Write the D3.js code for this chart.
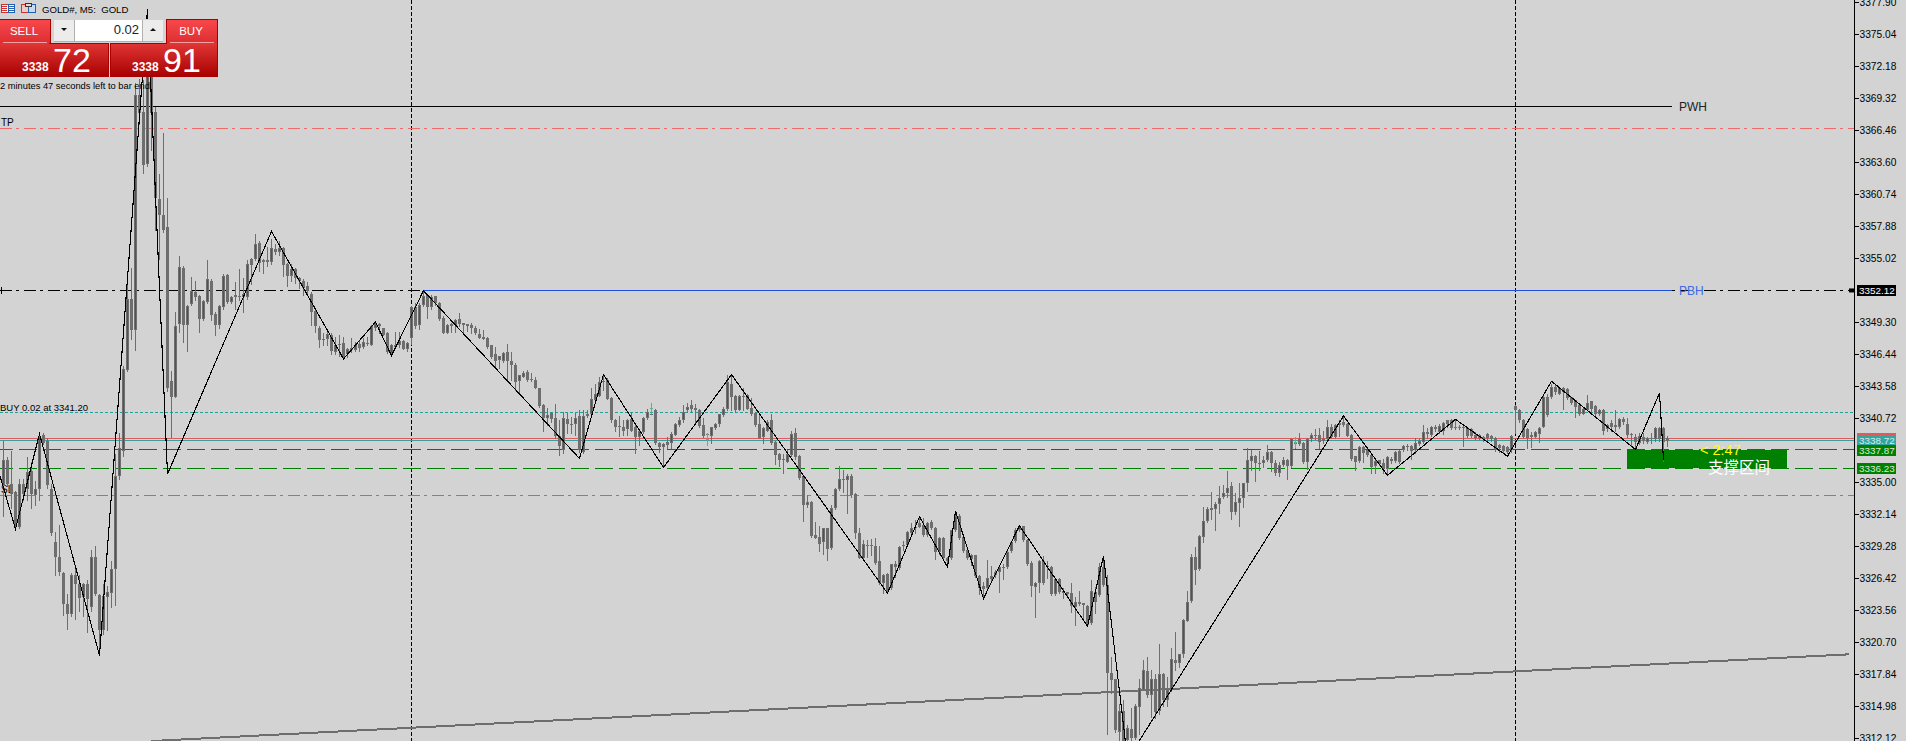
<!DOCTYPE html>
<html><head><meta charset="utf-8">
<script src="https://cdn.jsdelivr.net/npm/d3@7/dist/d3.min.js"></script>
<style>html,body{margin:0;padding:0;background:#d3d3d3;overflow:hidden}svg{display:block}</style>
</head><body><svg id="c" width="1906" height="741"></svg>
<script>
// Candles as [open, high, low, close]
const barsA=[[3334.6,3338.7,3332,3337],[3337,3337.2,3334.6,3334.8],[3334.8,3337.8,3332.7,3333.9],[3334.1,3334.2,3330.8,3331.2],[3331,3335.3,3330.9,3334.8],[3334.8,3335.3,3333.4,3333.9],[3334.4,3337.2,3333.4,3335.9],[3336,3336.8,3332.7,3333.9],[3333.8,3335.1,3332.9,3334.4],[3334.4,3339.4,3333.4,3339],
[3339.2,3339.4,3338.4,3338.5],[3338.7,3338.9,3334.5,3334.7],[3334.4,3334.8,3330.3,3330.4],[3329.6,3330.5,3326.7,3328.3],[3328.3,3331.2,3326.7,3327],[3326.9,3327,3323.1,3324.1],[3324.1,3325,3321.9,3323.2],[3323.2,3326.9,3323,3326.7],[3326.7,3327.4,3322.8,3325.9],[3325.9,3326.7,3323.5,3324.6],
[3324.7,3326,3323,3325.9],[3325.9,3326.2,3321.6,3324.5],[3323.8,3328.9,3323.5,3328.3],[3328.3,3329.3,3324.9,3325],[3324.9,3325,3320.1,3321.8],[3321.8,3325.9,3321.4,3324.8],[3324.7,3325.7,3321.8,3325.2],[3325.1,3327.9,3323.8,3327.2],[3327.2,3337.5,3324,3335.5],[3335.5,3339.4,3335.3,3338],
[3337.8,3345.4,3337.3,3345.1],[3345,3353.8,3344.9,3351.4],[3351.4,3354.1,3347.8,3348.6],[3348.6,3370.7,3346.8,3369.6],[3369.6,3371,3367,3368],[3368.1,3370.9,3362.6,3363.3],[3363.4,3377.3,3363.2,3372],[3372.7,3373,3364.7,3368],[3368.1,3368.5,3357.5,3360.4],[3360.3,3362.5,3354.9,3358.9],
[3358.9,3366.2,3357.3,3357.5],[3357.8,3360.4,3343.1,3343.4],[3344,3344.9,3339,3342.6],[3342.6,3350.2,3342.6,3348.9],[3349.1,3355.2,3348.4,3354.2],[3354.1,3354.3,3347.5,3349],[3349,3350.8,3346.7,3350.7],[3350.9,3353.3,3350.8,3352.1],[3352,3353,3351.3,3351.5],[3351.6,3351.7,3348.4,3349.6],
[3349.6,3351.3,3349.5,3351.2],[3351.1,3354.8,3351,3353.1],[3353,3353.1,3349.5,3349.9],[3350,3350.2,3348.1,3349],[3349,3350.8,3348.8,3350.7],[3350.6,3353.6,3350.5,3353.4],[3353.5,3353.6,3351,3351.1],[3351.1,3351.6,3351,3351.5],[3351.7,3352.9,3350.5,3351.5],[3351.6,3354,3351.3,3351.5],
[3351.8,3353.2,3350.2,3351.5],[3351.5,3354.8,3351.4,3354.5],[3354.9,3355,3352.7,3354.4],[3354.9,3357.2,3354.8,3356.3],[3356.4,3356.5,3353.9,3354.6],[3354.8,3354.9,3353.7,3354.7],[3354.8,3356,3354.3,3354.7],[3354.7,3356.7,3354.5,3355.9],[3355.8,3356.3,3355.4,3355.6],[3355.6,3356.5,3355.3,3355.9]];
const barsB=[[3355.9,3356,3353.4,3354.4],[3354.5,3354.6,3352.5,3353.4],[3353.4,3354.5,3353,3354],[3354,3354.1,3352.8,3353.2],[3353.2,3353.3,3352.3,3353],[3353,3353.1,3351.7,3352.3],[3352.5,3352.9,3351.7,3352.1],[3351.8,3352,3349,3350.2],[3350.3,3350.4,3348.4,3348.9],[3348.8,3348.9,3347.1,3347.7],
[3347.8,3348.3,3347.2,3347.7],[3347.8,3348.4,3347.2,3348.2],[3348.1,3348.3,3346.4,3346.7],[3346.6,3348,3346.4,3347.2],[3347.3,3348.1,3346.3,3347.2],[3347.4,3348,3346,3346.2],[3346.4,3347,3346.2,3346.9],[3347,3347.9,3346.6,3346.8],[3346.8,3347.5,3346.7,3347.2],[3347.3,3347.6,3346.7,3347],
[3347.1,3347.9,3347,3347.5],[3347.4,3348,3347.2,3347.3],[3347.2,3349,3347.2,3348.9],[3348.8,3349.3,3348.6,3349.1],[3349.1,3349.2,3348.3,3348.9],[3348.8,3348.8,3348.1,3348.1],[3348.3,3348.4,3346.5,3346.6],[3346.5,3347.3,3346.4,3347.2],[3347.2,3348.4,3347,3347.1],[3347.2,3348.4,3347.1,3347.6],
[3347.6,3347.7,3346.9,3346.9],[3346.9,3347.5,3346.7,3347.4],[3347.9,3350.7,3347.3,3350.6],[3350.6,3351,3348.8,3348.9],[3349,3351,3348.7,3350.8],[3350.8,3352.1,3350.7,3351.6],[3351.7,3351.7,3349.7,3350.6],[3350.6,3351.7,3350.5,3351.5],[3351.6,3351.6,3350.8,3351],[3351,3351.1,3349.5,3349.6],
[3349.7,3349.8,3348.3,3348.3],[3348.3,3349.1,3348.3,3349],[3349.1,3349.2,3348.4,3348.9],[3349,3349.6,3348.4,3349.5],[3349.6,3350.1,3348.9,3349.1],[3349.2,3349.2,3348.4,3349],[3349.1,3349.1,3348.5,3348.9],[3349,3349.2,3348.3,3348.8],[3348.8,3348.9,3348.2,3348.3],[3348.2,3348.7,3347.9,3347.9],
[3348,3348.6,3347.8,3347.8],[3347.9,3348,3347,3347.1],[3347.2,3347.2,3346.1,3346.2],[3346.4,3347.1,3345.3,3345.8],[3345.9,3346.3,3345.2,3346.3],[3345.8,3346.6,3345.7,3346.5],[3346.6,3347.3,3344.1,3345.8],[3345.8,3346.6,3344.1,3345.5],[3345.5,3345.6,3343.2,3343.9],[3344,3344.6,3343,3344.6],
[3344.4,3344.9,3344.4,3344.7],[3344.8,3345,3344,3344.1],[3344.2,3344.7,3344,3344.1],[3344.1,3344.4,3343.4,3343.4],[3343.4,3343.4,3341.7,3341.8],[3341.9,3342,3339.6,3340.7],[3340.7,3341.6,3340.1,3341],[3341.2,3341.3,3340.4,3340.6],[3340.7,3342,3338.9,3339.1],[3339.1,3340.5,3337.4,3338.2]];
const barsC=[[3337.9,3341.3,3337.6,3340.7],[3340.6,3341.2,3339.4,3340.2],[3340.2,3340.8,3339.4,3340.1],[3340.2,3341.2,3339.2,3340.7],[3340.9,3341.4,3337.7,3337.9],[3337.7,3341.4,3337.6,3340.9],[3341.1,3341.4,3340.8,3340.9],[3341.1,3343.4,3341,3342.4],[3342.3,3343.8,3342.2,3342.9],[3342.7,3344.4,3342.7,3343.9],
[3344,3344.6,3343.2,3343.9],[3344.1,3344.3,3342.4,3342.4],[3342.5,3342.6,3340.4,3340.5],[3340.5,3340.6,3339.6,3339.9],[3340,3340.9,3339.1,3339.9],[3339.9,3340.5,3339.2,3339.6],[3339.7,3340.6,3339.2,3340.5],[3340.6,3341.3,3339.6,3339.6],[3339.9,3340.2,3337.6,3339],[3339,3339.7,3338.3,3339.6],
[3339.5,3340.8,3339.4,3340.7],[3340.7,3341.5,3340.6,3341.3],[3341.1,3342.1,3341.1,3341.1],[3341.4,3341.5,3338.4,3338.5],[3338.5,3338.6,3337.7,3338.1],[3338.1,3338.5,3336.4,3338.4],[3338.6,3339,3338,3338.3],[3338.5,3339.5,3338,3339.3],[3339.2,3340.3,3339.2,3340.2],[3340.1,3340.8,3340,3340.5],
[3340.5,3341.9,3340.4,3341.3],[3341.4,3342.1,3341.3,3341.7],[3341.9,3342.3,3341.3,3341.5],[3341.6,3342,3340.4,3341.4],[3341.4,3341.5,3339.9,3340],[3340.1,3340.7,3339,3339.1],[3339.3,3339.4,3339.2,3339.3],[3339.1,3339.9,3338.5,3339.9],[3339.8,3340.3,3339.7,3340.2],[3340.2,3341.1,3340,3341.1],
[3341,3341.7,3340.9,3341.5],[3341.5,3344.6,3341.4,3343.9],[3343.8,3344.6,3341.4,3342.6],[3342.7,3342.8,3341.3,3341.4],[3341.4,3342.8,3341.4,3342.7],[3342.7,3343.4,3341.4,3342.6],[3342.8,3342.9,3341.5,3341.5],[3341.6,3342.5,3341,3341.1],[3341.2,3341.3,3340,3340.1],[3340.2,3341,3338.9,3338.9],
[3339,3339.9,3338.5,3339.8],[3339.6,3340.5,3339.6,3340.4],[3340.5,3341.1,3338.4,3338.5],[3338.6,3338.7,3336.6,3337.4],[3337.5,3337.6,3336.4,3337],[3337.1,3337.5,3335.8,3337],[3336.8,3337.9,3336.8,3337.5],[3337.4,3339.6,3337.3,3339.3],[3339.4,3339.8,3337.1,3337.2],[3337.3,3337.4,3335.3,3335.4],
[3335.5,3335.5,3331.5,3332.9],[3332.9,3333.8,3332.8,3333.2],[3333.2,3333.3,3330.1,3330.2],[3330.3,3331.4,3330,3330],[3330.1,3331.1,3328.8,3329.5],[3329.6,3330.9,3328.6,3330.9],[3330.9,3330.9,3328,3329],[3329.1,3332.9,3329,3332.7],[3332.7,3334.5,3332.6,3334.4],[3334.4,3336.4,3334.3,3335.3]];
const barsD=[[3335.3,3336.1,3334.1,3335.2],[3335.2,3335.7,3332.2,3335.5],[3335.5,3335.7,3333.7,3333.8],[3333.9,3334,3330,3330.4],[3330.4,3330.9,3328.2,3328.2],[3328.2,3329.8,3328.2,3329.5],[3329.4,3329.8,3328.3,3329.3],[3329.4,3329.9,3328.5,3329.3],[3329.3,3330,3327.7,3327.8],[3327.9,3329.3,3325.9,3326],
[3326,3326.8,3325.1,3326.7],[3326.8,3326.9,3325.2,3325.3],[3325.5,3327.7,3325.4,3327.7],[3327.7,3327.9,3326.5,3327.4],[3327.3,3329.3,3327.2,3329.2],[3329.4,3329.7,3328.9,3329.3],[3329.4,3330.6,3329.3,3330.5],[3330.4,3331.3,3330.4,3330.9],[3331,3331.6,3330.4,3330.9],[3331.3,3331.8,3331,3331],
[3331.2,3331.8,3330.2,3330.3],[3330.3,3331.4,3330.2,3331.3],[3331.4,3331.6,3330.8,3330.9],[3330.9,3331,3328.1,3328.7],[3328.7,3330.1,3328.6,3330],[3330,3330.1,3328.1,3328.2],[3327.9,3328.3,3327.7,3328.2],[3328.2,3330.7,3328.1,3330.7],[3330.7,3332.4,3330.6,3332],[3332,3332.1,3329.9,3330],
[3330.1,3330.1,3328.7,3328.8],[3328.9,3328.9,3328.1,3328.2],[3328.1,3328.6,3327.6,3328.5],[3328.5,3328.5,3326.5,3326.6],[3326.6,3326.7,3325,3325.5],[3325.7,3326.1,3324.6,3325.4],[3325.5,3328,3325.4,3326.4],[3326.3,3327.5,3326.2,3326.6],[3326.7,3327.1,3326.5,3327],[3327,3327.4,3325.2,3327.4],
[3327.4,3327.7,3326.3,3327.3],[3327.4,3328.8,3327.3,3328.7],[3328.8,3329.7,3328.7,3329.6],[3329.7,3330.9,3329.6,3330.7],[3330.7,3331.2,3330.6,3331.1],[3331.1,3331.1,3329.7,3329.8],[3329.8,3329.9,3327.6,3327.7],[3327.8,3327.9,3324.8,3325.7],[3325.6,3326.1,3322.9,3326],[3326,3328,3325.2,3327.9],
[3327.9,3328.4,3325.9,3326],[3327.5,3327.9,3326.4,3327.4],[3327.4,3327.5,3324.9,3325],[3325,3326.4,3324.9,3326.3],[3326.3,3326.4,3325.1,3325.2],[3325.3,3325.5,3324.6,3325.1],[3325.2,3325.2,3324.7,3325],[3325.1,3326,3323.4,3323.9],[3323.8,3324.7,3322.2,3324.3],[3324.3,3325.3,3324,3324.1],
[3324.2,3324.2,3322.7,3324],[3323.9,3324,3322.1,3322.2],[3322.4,3326.2,3322.3,3325.3],[3325.2,3325.6,3323.3,3324.3],[3324.9,3327.8,3324.8,3327.4],[3327.4,3328.4,3325.7,3325.8],[3325.8,3326.7,3312.5,3317.9],[3317.9,3319.4,3316.1,3317.3],[3317.4,3317.4,3312.7,3312.8],[3312.7,3315.2,3311.8,3314.5]];
const barsE=[[3314.5,3315.5,3311.8,3311.8],[3311.9,3313.3,3311.8,3313],[3312.9,3314.8,3311.8,3312.1],[3312.1,3315.2,3312,3315],[3314.9,3317.4,3312.5,3316.6],[3316.4,3319.1,3316.4,3318.2],[3318.1,3319.4,3315.8,3316],[3316,3318.2,3314,3317.4],[3317.4,3317.8,3313.9,3314.4],[3314.5,3320.5,3314.3,3317.8],
[3317.8,3317.9,3315,3315.5],[3315.5,3317.6,3315,3316.4],[3316.4,3320.2,3316.3,3319.2],[3319.1,3321.6,3318.2,3318.8],[3318.8,3319.6,3318.5,3319.6],[3319.6,3322.8,3319.4,3322.7],[3322.6,3325.3,3322.6,3324.3],[3324.4,3328.6,3324.3,3328.3],[3328.3,3329.2,3325.9,3327.1],[3327.2,3330.3,3327.1,3330.2],
[3330.1,3332.8,3329.6,3331.5],[3331.5,3332.8,3331.4,3332.6],[3332.5,3334.1,3331.7,3332.7],[3332.6,3333.2,3330.7,3333],[3333,3334.6,3332.2,3333.6],[3333.7,3334.7,3333.6,3334],[3334,3336,3333.7,3334.5],[3334.6,3335,3331.7,3332.3],[3332.3,3334,3332.1,3333.2],[3333.1,3334.9,3331.1,3333.6],
[3333.6,3334.9,3332.8,3334.9],[3334.9,3338,3334.2,3337],[3336.9,3337.9,3336.1,3337.3],[3337.3,3337.4,3335.1,3336.7],[3336.7,3337.8,3336.1,3336.6],[3336.7,3337.3,3336.3,3337],[3337,3338.3,3336.9,3337.7],[3337.7,3337.8,3336,3336.7],[3336.7,3337,3335.6,3335.8],[3335.8,3336.8,3335.5,3336.5],
[3336.5,3337.2,3336.4,3337],[3337,3337.1,3335.3,3336.4],[3336.4,3338.9,3336.3,3338.8],[3338.5,3339,3338,3338.5],[3338.8,3339.4,3338.3,3338.4],[3338.5,3338.6,3336.7,3336.8],[3336.8,3338.9,3336.2,3338.8],[3338.8,3339.4,3338.7,3339.2],[3339.2,3339.7,3338.8,3339.1],[3339.2,3339.8,3338,3338.6],
[3338.8,3339.6,3338.5,3338.7],[3338.8,3340.5,3338.7,3339.9],[3339.9,3340.2,3338.9,3339],[3339,3340.2,3338.9,3340.1],[3340.1,3340.5,3339.1,3340.3],[3340.4,3340.8,3340,3340.1],[3340.2,3340.3,3339.1,3339.1],[3339.2,3339.3,3337,3337.1],[3337.3,3337.3,3336.1,3336.8],[3336.9,3338.2,3336.8,3338.1],
[3338.1,3338.2,3336.8,3337.6],[3337.9,3337.9,3337.3,3337.4],[3337.4,3337.5,3335.8,3336.3],[3336.4,3337,3335.8,3336.9],[3337,3337,3336.5,3336.6],[3336.7,3337.1,3335.8,3336.2],[3336.2,3337.3,3335.6,3337.2],[3337.1,3337.2,3336.7,3336.9],[3336.9,3337.8,3336.8,3337.7],[3337.8,3337.9,3336.7,3336.8]];
const barsF=[[3337.9,3338.3,3337.8,3338.2],[3338.2,3338.4,3337.9,3338.1],[3338.2,3338.3,3337.1,3337.8],[3337.9,3338.9,3337.6,3338.5],[3338.4,3338.8,3338.3,3338.7],[3338.6,3340.1,3338.5,3339.5],[3339.5,3339.8,3338.9,3339.3],[3339.2,3340,3339.1,3339.9],[3339.9,3340.1,3339.6,3339.7],[3339.5,3340.2,3339.4,3340],
[3339.6,3340.4,3339.3,3340.3],[3340.5,3340.5,3339.9,3340.2],[3340.5,3340.6,3339.7,3339.8],[3339.9,3340.5,3339.7,3339.8],[3339.9,3340.1,3339.7,3339.8],[3339.9,3340,3338.2,3339.8],[3339.8,3339.9,3339,3339.1],[3339.7,3339.8,3339,3339.1],[3339.2,3339.5,3338.8,3338.9],[3339.2,3339.3,3338.8,3338.9],
[3339,3339.1,3338.7,3338.8],[3339.3,3339.4,3338.7,3338.9],[3339.1,3339.2,3338.7,3338.8],[3338.9,3339,3337.8,3337.9],[3338.3,3338.4,3337.7,3338],[3338.2,3338.3,3337.6,3337.8],[3338.1,3338.2,3337.6,3337.7],[3337.9,3339.2,3337.7,3339.1],[3341.8,3341.9,3339.4,3341.4],[3341.4,3341.5,3340.4,3340.5],
[3340.5,3340.6,3338.9,3339],[3339.7,3339.8,3338,3338.9],[3339.2,3339.5,3338.1,3339],[3339,3339.6,3339,3339.5],[3339.3,3339.9,3338.6,3339.8],[3339.9,3342.7,3339.9,3342.6],[3342.6,3342.9,3340.9,3341],[3342.6,3343.8,3342.5,3343.5],[3343.5,3343.8,3342.9,3343],[3342.9,3343.5,3342.9,3343.4],
[3343.4,3343.5,3341.5,3343],[3343.3,3343.4,3342.4,3342.5],[3342.6,3342.6,3342,3342.1],[3342.3,3342.3,3340.8,3341.7],[3341.9,3341.9,3341,3341.1],[3341.1,3341.7,3341.1,3341.5],[3341.4,3342.8,3341.4,3342.1],[3342.2,3342.2,3341.2,3341.5],[3341.8,3341.9,3341,3341.1],[3341.1,3341.5,3341,3341.4],
[3341.4,3341.5,3339.3,3339.6],[3339.7,3340.2,3339.6,3340.1],[3340.3,3340.5,3339.6,3339.9],[3340.1,3341.4,3339.6,3339.9],[3339.9,3340.7,3339.8,3340.6],[3340.6,3340.8,3340.2,3340.4],[3340.2,3340.7,3339,3339.2],[3339.3,3339.4,3338.3,3339.2],[3339,3339.3,3338,3338.6],[3338.5,3339.4,3338.4,3339.1],
[3339,3339.4,3338.5,3338.7],[3338.6,3339,3338.5,3338.9],[3338.9,3339.4,3338.5,3338.8],[3338.8,3339.9,3338.7,3339.8],[3339.8,3339.9,3338.7,3338.8],[3339.8,3339.9,3336.9,3338.6],[3338.9,3339.1,3338.2,3338.7]];
// Zigzag indicator: bar index and price of each vertex
const zigzagBar=[-1,3,9,24,36,41,67,85,93,97,105,144,150,165,182,221,229,236,238,245,254,271,275,281,335,346,363,376,387,408,414,415];
const zigzagPrice=[3335.7,3330.8,3339.3,3319.5,3377.3,3335.7,3357.4,3346,3349.3,3346.3,3352.1,3337.1,3344.6,3336.3,3344.6,3325.05,3331.9,3327.4,3332.4,3324.6,3331.1,3322.1,3328.4,3310.2,3340.9,3335.6,3340.6,3337.3,3344,3337.9,3342.96,3336.97];
// Long trend line
const trendBar=[37,461.5];
const trendPrice=[3311.85,3319.6];
// Price axis
const tickValues=[3377.90,3375.04,3372.18,3369.32,3366.46,3363.60,3360.74,3357.88,3355.02,3349.30,3346.44,3343.58,3340.72,3335.00,3332.14,3329.28,3326.42,3323.56,3320.70,3317.84,3314.98,3312.12];
// Price levels
const bidPrice=3338.72, askPrice=3338.91, buyPrice=3341.20, tpPrice=3366.6, slPrice=3333.8;
const pwhPrice=3368.57, pbhPrice=3352.12, zoneTop=3337.87, zoneBottom=3336.23;
const sessionBars=[102,378];
const tradeBars=[162,176,323];
const tradeHigh=[3342.1,3339.4,3339];
const tradeLow=[3341.1,3338.2,3338];

const bars=[...barsA,...barsB,...barsC,...barsD,...barsE,...barsF];
const svg=d3.select('#c');
const x=d3.scaleLinear().domain([0,416]).range([3.5,1667.5]);
const y=d3.scaleLinear().domain([3377.90,3312.12]).range([2,738]);
const AXIS_X=1854, SANS='"Liberation Sans",Arial,sans-serif';
const GRAY='#6e6e6e';
const hline=(p,x0,x1,color,dash,w)=>svg.append('line').attr('x1',x0).attr('x2',x1).attr('y1',y(p)).attr('y2',y(p)).attr('stroke',color).attr('stroke-width',w||1).attr('stroke-dasharray',dash||null).attr('shape-rendering','crispEdges');
const DD='12 4 3 5';
sessionBars.forEach(b=>svg.append('line').attr('x1',x(b)).attr('x2',x(b)).attr('y1',0).attr('y2',741).attr('stroke','#000').attr('stroke-dasharray','4 2').attr('shape-rendering','crispEdges'));
hline(tpPrice,0,AXIS_X,'#f06a6a',DD);
hline(slPrice,0,AXIS_X,'#e05a5a',DD);
hline(pbhPrice,0,AXIS_X,'#000',DD);
hline(buyPrice,0,AXIS_X,'#20a096','3 2');
// support zone
svg.append('rect').attr('x',1627).attr('width',160).attr('y',450).attr('height',Math.round(y(zoneBottom))-450).attr('fill','#008000').attr('shape-rendering','crispEdges');
hline(zoneTop,0,AXIS_X,'#008000','18 6').attr('stroke-dashoffset',5);
hline(zoneBottom,0,AXIS_X,'#008000','18 6').attr('stroke-dashoffset',5);
hline(askPrice,0,AXIS_X,'#e05a5a');
hline(bidPrice,0,AXIS_X,'#3a9e9e');
hline(pwhPrice,0,x(416)+4,'#000');
hline(pbhPrice,x(105),x(416)+4,'#2050e0');
// left labels under the candles
const label=(t,px,py,fs,fill,font)=>svg.append('text').attr('x',px).attr('y',py).attr('font-size',fs).attr('fill',fill||'#000').attr('font-family',font||SANS).text(t);
label('TP',1,126,10);
label('SL',1,493,10);
label('BUY 0.02 at 3341.20',0,411,9.5);
// trend line
svg.append('path').attr('d',d3.line().x(d=>x(d[0])).y(d=>y(d[1]))(d3.zip(trendBar,trendPrice))).attr('fill','none').attr('stroke',GRAY).attr('stroke-width',2).attr('shape-rendering','crispEdges');
// candles
const cg=svg.append('g').attr('shape-rendering','crispEdges');
bars.forEach((b,i)=>{
  const [o,h,l,c]=b, up=c>o&&(c-o)>0.05;
  cg.append('line').attr('x1',x(i)).attr('x2',x(i)).attr('y1',Math.round(y(Math.max(h,o,c)))).attr('y2',Math.round(y(Math.min(l,o,c)))+1).attr('stroke',GRAY);
  const t=Math.round(y(Math.max(o,c))), bt=Math.round(y(Math.min(o,c))), ht=Math.max(1,bt-t);
  cg.append('rect').attr('x',x(i)-1.5).attr('width',3).attr('y',t).attr('height',ht).attr('fill',GRAY);
  if(up&&ht>2) cg.append('rect').attr('x',x(i)-.5).attr('width',1).attr('y',t+1).attr('height',ht-2).attr('fill','#f01010');
});
// trade marks
tradeBars.forEach((b,k)=>{
  svg.append('line').attr('x1',x(b)).attr('x2',x(b)).attr('y1',y(tradeHigh[k])).attr('y2',y(tradeLow[k])).attr('stroke','#5fb38c').attr('shape-rendering','crispEdges');
  svg.append('line').attr('x1',x(b)-1.5).attr('x2',x(b)+1.5).attr('y1',(y(tradeHigh[k])+y(tradeLow[k]))/2).attr('y2',(y(tradeHigh[k])+y(tradeLow[k]))/2).attr('stroke','#5fb38c').attr('shape-rendering','crispEdges');
});
// zigzag
svg.append('path').attr('d',d3.line().x(d=>x(d[0])).y(d=>y(d[1]))(d3.zip(zigzagBar,zigzagPrice))).attr('fill','none').attr('stroke','#000').attr('stroke-width',1.1).attr('shape-rendering','crispEdges');
// zone texts and right labels
label('< 2:47',1700,455,14.5,'#ffff00');
label('支撑区间',1708,473,15.5,'#ffffff','"Noto Sans CJK SC"');
label('PWH',1679,111,12,'#222');
label('PBH',1679,295,12,'#4169e1');
// left cross mark
svg.append('line').attr('x1',1.5).attr('x2',1.5).attr('y1',y(pbhPrice)-3).attr('y2',y(pbhPrice)+4).attr('stroke','#000').attr('shape-rendering','crispEdges');
// axis
const axis=d3.axisRight(y).tickValues(tickValues).tickSize(4).tickPadding(1).tickFormat(d3.format('.2f'));
const ag=svg.append('g').attr('transform',`translate(${AXIS_X+.5},0)`).call(axis);
ag.select('.domain').remove();
ag.selectAll('line').attr('stroke','#000').attr('shape-rendering','crispEdges');
ag.selectAll('text').attr('font-family',SANS).attr('font-size',10.2).attr('fill','#000');
svg.append('line').attr('x1',AXIS_X+.5).attr('x2',AXIS_X+.5).attr('y1',0).attr('y2',741).attr('stroke','#000').attr('shape-rendering','crispEdges');
// price tags
const tag=(p,bg,fg)=>{
  const cy=Math.round(y(p));
  svg.append('rect').attr('x',1857).attr('width',39).attr('y',cy-5.5).attr('height',11).attr('fill',bg).attr('shape-rendering','crispEdges');
  svg.append('text').attr('x',1859).attr('y',cy+3.6).attr('font-size',9.9).attr('font-family',SANS).attr('fill',fg).text(d3.format('.2f')(p));
};
tag(askPrice,'#e05a5a','#e05a5a');
tag(bidPrice,'#35a5a0','#d8ecec');
tag(zoneTop,'#008000','#d8ecd8');
tag(zoneBottom,'#008000','#d8ecd8');
tag(pbhPrice,'#000','#fff');
svg.append('rect').attr('x',1849).attr('width',6).attr('y',y(pbhPrice)-2).attr('height',4).attr('fill','#000');

// Top-left trade panel
const defs=svg.append('defs');
const grad=(id,a,b)=>{const g=defs.append('linearGradient').attr('id',id).attr('x1',0).attr('x2',0).attr('y1',0).attr('y2',1);g.append('stop').attr('offset',0).attr('stop-color',a);g.append('stop').attr('offset',1).attr('stop-color',b);};
grad('gBtn','#f8484c','#dc2e30');grad('gBig','#e03535','#a80000');
const p=svg.append('g');
const box=(x0,y0,w,h,f,st)=>p.append('rect').attr('x',x0).attr('y',y0).attr('width',w).attr('height',h).attr('fill',f).attr('stroke',st||'none').attr('shape-rendering','crispEdges');
p.append('rect').attr('x',0).attr('y',19).attr('width',218).attr('height',58).attr('fill','#d3d3d3');
box(-1,19.5,51.5,24,'url(#gBtn)','#a80000');
box(166.5,19.5,51,24,'url(#gBtn)','#a80000');
box(-1,43.5,109,33,'url(#gBig)','#a80000');
box(110.5,43.5,107,33,'url(#gBig)','#a80000');
p.append('rect').attr('x',0).attr('y',43).attr('width',49).attr('height',2).attr('fill','#e03535');
p.append('rect').attr('x',167).attr('y',43).attr('width',50).attr('height',2).attr('fill','#e03535');
p.append('line').attr('x1',3).attr('x2',47).attr('y1',42.5).attr('y2',42.5).attr('stroke','#f5a0a0').attr('shape-rendering','crispEdges');
p.append('line').attr('x1',170).attr('x2',214).attr('y1',42.5).attr('y2',42.5).attr('stroke','#f5a0a0').attr('shape-rendering','crispEdges');
box(54,20,109,21,'#ececec');
box(75,20,67,21,'#ffffff');
p.append('rect').attr('x',54).attr('y',41).attr('width',109).attr('height',1).attr('fill','#b0b0b0');
p.append('rect').attr('x',74).attr('y',20).attr('width',1).attr('height',21).attr('fill','#b0b0b0');
p.append('rect').attr('x',142).attr('y',20).attr('width',1).attr('height',21).attr('fill','#b0b0b0');
p.append('path').attr('d','M61 28h6l-3 3z').attr('fill','#111');
p.append('path').attr('d','M150 31h6l-3 -3z').attr('fill','#111');
const ptext=(t,px,py,fs,fill,anchor,w)=>p.append('text').attr('x',px).attr('y',py).attr('font-size',fs).attr('fill',fill).attr('font-family',SANS).attr('text-anchor',anchor||'start').attr('font-weight',w||400).text(t);
ptext('SELL',24,35,11.5,'#fff','middle');
ptext('BUY',191,35,11.5,'#fff','middle');
ptext('0.02',139,34,13,'#123','end');
ptext('3338',22,71,12,'#fff','start',700);
ptext('72',53,72,34,'#fff');
ptext('3338',132,71,12,'#fff','start',700);
ptext('91',163,72,34,'#fff');
ptext('2 minutes 47 seconds left to bar end',0,89,9.3,'#000');
ptext('GOLD#, M5:  GOLD',42,13,9.6,'#000').attr('xml:space','preserve');
// header icons
const ic=(x0,y0,w,h,st,f)=>p.append('rect').attr('x',x0+.5).attr('y',y0+.5).attr('width',w).attr('height',h).attr('fill',f||'#fff').attr('stroke',st).attr('shape-rendering','crispEdges');
ic(1,4,7,8,'#d03030');ic(8,4,6,8,'#2060b0');
[6,8,10].forEach(v=>{p.append('line').attr('x1',2).attr('x2',7).attr('y1',v+.5).attr('y2',v+.5).attr('stroke','#d03030').attr('shape-rendering','crispEdges');p.append('line').attr('x1',9).attr('x2',14).attr('y1',v+.5).attr('y2',v+.5).attr('stroke','#2060b0').attr('shape-rendering','crispEdges');});
ic(21,4,7,8,'#d03030','#f0c8c8');ic(28,4,7,8,'#2060b0','#c8d8f0');
ic(25,3,6,3,'#333','#ddd');
</script></body></html>
